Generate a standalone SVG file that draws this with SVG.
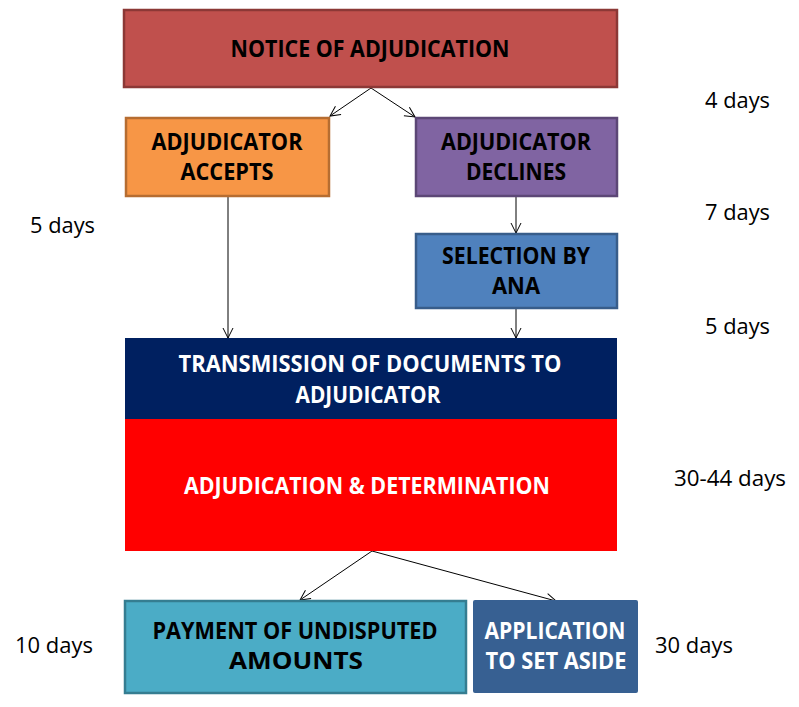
<svg xmlns="http://www.w3.org/2000/svg" width="799" height="707" viewBox="0 0 799 707">
<style>
.t{font-family:"Open Sans","Liberation Sans",sans-serif;font-weight:bold;font-size:23px;text-anchor:middle}
.d{font-family:"Open Sans","Liberation Sans",sans-serif;font-size:22px;fill:#000}
.c{stroke:#000;stroke-width:1;fill:none;marker-end:url(#ah)}
</style>
<defs>
<marker id="ah" viewBox="0 0 12 12" refX="11" refY="6" markerWidth="12" markerHeight="12" markerUnits="userSpaceOnUse" orient="auto">
<path d="M1,1 L11,6 L1,11" fill="none" stroke="#000" stroke-width="1"/>
</marker>
</defs>
<rect width="799" height="707" fill="#fff"/>
<g id="connectors">
<line class="c" x1="371" y1="88" x2="330" y2="116"/>
<line class="c" x1="371" y1="88" x2="415" y2="117"/>
<line class="c" x1="228" y1="197" x2="228" y2="338"/>
<line class="c" x1="516" y1="197" x2="516" y2="233"/>
<line class="c" x1="516" y1="309" x2="516" y2="338"/>
<line class="c" x1="372" y1="551" x2="300" y2="600"/>
<line class="c" x1="372" y1="551" x2="556" y2="601"/>
</g>
<g id="notice">
<rect x="124" y="10" width="493" height="77" fill="#c0504d" stroke="#8c3836" stroke-width="2.5"/>
<text class="t" x="370" y="57" textLength="279" lengthAdjust="spacingAndGlyphs">NOTICE OF ADJUDICATION</text>
</g>
<g id="accepts">
<rect x="126" y="118" width="203" height="78" fill="#f79646" stroke="#b66d31" stroke-width="2.5"/>
<text class="t" x="227" y="150" textLength="151" lengthAdjust="spacingAndGlyphs">ADJUDICATOR</text>
<text class="t" x="227" y="180" textLength="93" lengthAdjust="spacingAndGlyphs">ACCEPTS</text>
</g>
<g id="declines">
<rect x="416" y="118" width="201" height="78" fill="#8064a2" stroke="#5c4776" stroke-width="2.5"/>
<text class="t" x="516" y="150" textLength="150" lengthAdjust="spacingAndGlyphs">ADJUDICATOR</text>
<text class="t" x="516" y="180" textLength="100" lengthAdjust="spacingAndGlyphs">DECLINES</text>
</g>
<g id="selection">
<rect x="416" y="234" width="201" height="74" fill="#4f81bd" stroke="#385d8a" stroke-width="2.5"/>
<text class="t" x="516" y="264" textLength="148" lengthAdjust="spacingAndGlyphs">SELECTION BY</text>
<text class="t" x="516" y="294" textLength="48" lengthAdjust="spacingAndGlyphs">ANA</text>
</g>
<g id="transmission">
<rect x="125" y="338" width="492" height="81" fill="#002060"/>
<text class="t" x="370" y="372" fill="#fff" textLength="383" lengthAdjust="spacingAndGlyphs">TRANSMISSION OF DOCUMENTS TO</text>
<text class="t" x="368" y="403" fill="#fff" textLength="145" lengthAdjust="spacingAndGlyphs">ADJUDICATOR</text>
</g>
<g id="adjudication">
<rect x="125" y="419" width="492" height="132" fill="#ff0000"/>
<text class="t" x="367" y="494" fill="#fff" textLength="366" lengthAdjust="spacingAndGlyphs">ADJUDICATION &amp; DETERMINATION</text>
</g>
<g id="payment">
<rect x="125" y="601" width="341" height="92" fill="#4bacc6" stroke="#357d91" stroke-width="2.5"/>
<text class="t" x="295" y="639" textLength="285" lengthAdjust="spacingAndGlyphs">PAYMENT OF UNDISPUTED</text>
<text class="t" x="296" y="669" textLength="134" lengthAdjust="spacingAndGlyphs">AMOUNTS</text>
</g>
<g id="setaside">
<rect x="473" y="600" width="165" height="93" rx="2" fill="#376092"/>
<text class="t" x="555" y="639" fill="#fff" textLength="141" lengthAdjust="spacingAndGlyphs">APPLICATION</text>
<text class="t" x="556" y="669" fill="#fff" textLength="141" lengthAdjust="spacingAndGlyphs">TO SET ASIDE</text>
</g>
<g id="labels">
<text class="d" x="705" y="108" textLength="65" lengthAdjust="spacingAndGlyphs">4 days</text>
<text class="d" x="30" y="233" textLength="65" lengthAdjust="spacingAndGlyphs">5 days</text>
<text class="d" x="705" y="220" textLength="65" lengthAdjust="spacingAndGlyphs">7 days</text>
<text class="d" x="705" y="334" textLength="65" lengthAdjust="spacingAndGlyphs">5 days</text>
<text class="d" x="674" y="486" textLength="112" lengthAdjust="spacingAndGlyphs">30-44 days</text>
<text class="d" x="15" y="653" textLength="78" lengthAdjust="spacingAndGlyphs">10 days</text>
<text class="d" x="655" y="653" textLength="78" lengthAdjust="spacingAndGlyphs">30 days</text>
</g>
</svg>
